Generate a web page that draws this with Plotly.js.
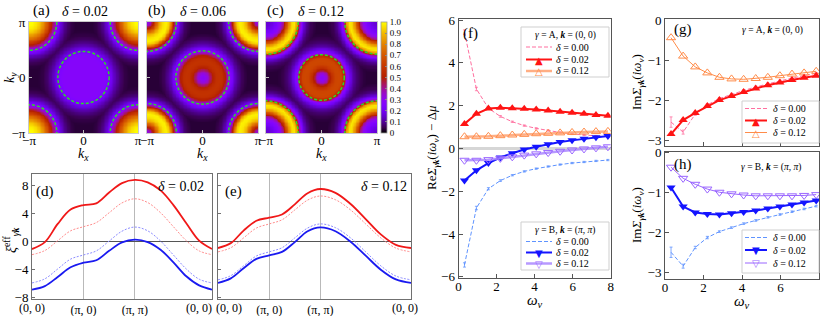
<!DOCTYPE html>
<html><head><meta charset="utf-8">
<script src="https://cdn.plot.ly/plotly-3.0.1.min.js"></script>
<style>body{margin:0;background:#fff}#plot{width:822px;height:316px}</style>
</head><body><div id="plot"></div>
<script>
// ---------------- DATA ----------------
// (a)-(c) radial profiles (value vs distance from Γ and from M, r in units of π, step 0.05)
const profR = [0,0.05,0.1,0.15,0.2,0.25,0.3,0.35,0.4,0.45,0.5,0.55,0.6,0.65,0.7,0.75,0.8,0.85,0.9,0.95,1.0];
const aCenter = [0.27,0.27,0.27,0.27,0.27,0.27,0.27,0.27,0.265,0.24,0.2,0.15,0.11,0.08,0.06,0.045,0.04,0.035,0.035,0.035,0.035];
const aCorner = [1.0,1.0,0.98,0.95,0.9,0.83,0.75,0.65,0.52,0.4,0.3,0.21,0.14,0.1,0.07,0.05,0.04,0.035,0.035,0.035,0.035];
const bCenter = [0.28,0.3,0.36,0.45,0.53,0.57,0.58,0.56,0.5,0.38,0.26,0.18,0.12,0.085,0.06,0.045,0.035,0.035,0.035,0.035,0.035];
const bCorner = [0.3,0.35,0.5,0.68,0.82,0.92,0.97,0.98,0.9,0.65,0.38,0.22,0.14,0.09,0.06,0.045,0.035,0.035,0.035,0.035,0.035];
const cCenter = [0.28,0.3,0.38,0.5,0.6,0.64,0.65,0.64,0.55,0.3,0.2,0.13,0.09,0.065,0.05,0.04,0.035,0.035,0.035,0.035,0.035];
const cCorner = [0.15,0.16,0.18,0.21,0.25,0.3,0.4,0.6,0.8,0.93,0.97,0.85,0.4,0.22,0.13,0.08,0.055,0.045,0.035,0.035,0.035];
const fsCenter = [0.47, 0.48, 0.41];   // Fermi-surface radius around Γ (units of π)
const fsCorner = [0.51, 0.53, 0.58];   // Fermi-surface radius around M (units of π)
const heatTitles = ['0.02', '0.06', '0.12'];
const cbTicks = [0,0.1,0.2,0.3,0.4,0.5,0.6,0.7,0.8,0.9,1.0];
const cbTickText = ['0','0.1','0.2','0.3','0.4','0.5','0.6','0.7','0.8','0.9','1.0'];

// (d),(e) band dispersions along Γ-X-M-Γ
const pathLabels = ['(0, 0)', '(π, 0)', '(π, π)', '(0, 0)'];
const pathTicksD = [0, 1, 2, 3.5];
const pathTicksE = [0, 1, 2, 3.77];
const xD = [0,0.25,0.5,0.75,1,1.25,1.5,1.75,2,2.25,2.5,2.75,3,3.25,3.5];
const xE = [0,0.25,0.5,0.75,1,1.25,1.5,1.75,2,2.295,2.59,2.885,3.18,3.475,3.77];
const redSolidD  = [-1.1,-0.1,2.5,4.55,5.2,5.45,7.0,8.35,8.8,8.45,7.3,5.2,2.6,0.1,-1.1];
const redDotD    = [-1.9,-1.31,0.1,1.51,2.1,2.69,4.1,5.51,6.1,5.56,4.1,2.1,0.1,-1.36,-1.9];
const blueDotD   = [-5.95,-5.36,-3.95,-2.54,-1.95,-1.36,0.05,1.46,2.05,1.51,0.05,-1.95,-3.95,-5.41,-5.95];
const blueSolidD = [-6.9,-6.4,-5.1,-3.7,-3.05,-2.7,-1.35,-0.15,0.25,-0.1,-1.2,-3.0,-5.0,-6.3,-6.9];
const redSolidE  = [-0.95,-0.25,1.55,2.95,3.4,3.85,5.3,6.9,7.5,6.95,5.35,3.2,1.0,-0.5,-0.95];
const redDotE    = [-1.5,-0.91,0.5,1.91,2.5,3.09,4.5,5.91,6.5,5.96,4.5,2.5,0.5,-0.96,-1.5];
const blueDotE   = [-5.5,-4.91,-3.5,-2.09,-1.5,-0.91,0.5,1.91,2.5,1.96,0.5,-1.5,-3.5,-4.96,-5.5];
const blueSolidE = [-5.95,-5.3,-3.85,-2.5,-2.0,-1.5,-0.1,1.45,2.0,1.45,-0.05,-2.05,-4.05,-5.45,-5.95];

// (f)-(h) self-energies on Matsubara frequencies
const omega = [0.314,0.942,1.571,2.199,2.827,3.456,4.084,4.712,5.341,5.969,6.597,7.226,7.854];
const reA00 = [5.44,2.78,1.88,1.5,1.25,1.07,0.94,0.84,0.75,0.68,0.63,0.58,0.54];
const reA02 = [1.15,1.62,1.87,1.9,1.88,1.86,1.82,1.77,1.72,1.67,1.62,1.57,1.53];
const reA12 = [0.55,0.55,0.57,0.6,0.63,0.66,0.69,0.71,0.73,0.75,0.77,0.79,0.8];
const reB00 = [-5.44,-2.78,-1.88,-1.5,-1.25,-1.07,-0.94,-0.84,-0.75,-0.68,-0.63,-0.58,-0.54];
const reB02 = [-1.5,-1.02,-0.68,-0.42,-0.22,-0.05,0.08,0.2,0.3,0.38,0.45,0.52,0.58];
const reB12 = [-0.55,-0.55,-0.52,-0.46,-0.39,-0.31,-0.25,-0.19,-0.13,-0.07,-0.02,0.03,0.08];
const errRe00 = [0.1,0.08,0.05,0.04,0.03,0.03,0.03,0.03,0.03,0.03,0.03,0.03,0.03];
const imA00 = [-2.55,-2.8,-2.35,-2.12,-1.96,-1.85,-1.76,-1.67,-1.59,-1.52,-1.45,-1.39,-1.33];
const imA02 = [-2.85,-2.5,-2.32,-2.15,-2.0,-1.9,-1.8,-1.71,-1.63,-1.56,-1.5,-1.44,-1.39];
const imA12 = [-0.44,-0.9,-1.17,-1.32,-1.43,-1.47,-1.48,-1.46,-1.43,-1.39,-1.35,-1.32,-1.28];
const imB00 = [-2.5,-2.85,-2.38,-2.13,-1.98,-1.88,-1.78,-1.7,-1.62,-1.55,-1.48,-1.41,-1.34];
const imB02 = [-0.87,-1.35,-1.5,-1.54,-1.55,-1.52,-1.49,-1.45,-1.4,-1.35,-1.3,-1.25,-1.2];
const imB12 = [-0.36,-0.64,-0.79,-0.91,-0.99,-1.03,-1.06,-1.08,-1.08,-1.08,-1.08,-1.07,-1.05];
const errIm00 = [0.13,0.05,0.03,0.03,0.02,0.02,0.02,0.02,0.02,0.02,0.02,0.02,0.02];
const deltaLabels = ['0.00', '0.02', '0.12'];

// ---------------- LAYOUT HELPERS ----------------
const W = 822, H = 316;
const fx = p => p / W, fy = p => 1 - p / H;
const dX = (a, b) => [a / W, b / W];
const dY = (t, b) => [1 - b / H, 1 - t / H];
const SERIF = 'Liberation Serif, DejaVu Serif, serif';
const C = {
  a00:'#ff6f9f', a02:'#ff1414', a12:'#ff8c4a', a12l:'rgba(255,160,110,0.85)',
  b00:'#5f93ff', b02:'#1414ff', b12:'#9a66ff', b12l:'rgba(170,135,255,0.85)',
  rs:'#f01818', rd:'#ff8c8c', bs:'#1a1af0', bd:'#8c8cff'
};

// colour scale (gnuplot-like)
const gnuplotScale = [[0,'rgb(0,0,0)'],[0.05,'rgb(57,0,79)'],[0.1,'rgb(81,0,150)'],[0.15,'rgb(99,1,206)'],
 [0.2,'rgb(114,2,243)'],[0.25,'rgb(128,4,255)'],[0.3,'rgb(140,7,243)'],[0.35,'rgb(151,11,206)'],
 [0.4,'rgb(161,16,150)'],[0.45,'rgb(171,23,79)'],[0.5,'rgb(180,32,0)'],[0.6,'rgb(198,55,0)'],
 [0.7,'rgb(213,87,0)'],[0.8,'rgb(228,131,0)'],[0.9,'rgb(242,186,0)'],[1,'rgb(255,255,0)']];

// heat-map table built from the radial profiles
const N = 81;
const kGrid = Array.from({length: N}, (_, i) => -1 + 2 * i / (N - 1));
function prof(p, r) {
  const s = r / (profR[1] - profR[0]);
  const i = Math.floor(s);
  if (i >= p.length - 1) return p[p.length - 1];
  const f = s - i;
  return p[i] * (1 - f) + p[i + 1] * f;
}
function buildZ(center, corner) {
  return kGrid.map(y => kGrid.map(x => Math.max(
    prof(center, Math.hypot(x, y)),
    prof(corner, Math.hypot(1 - Math.abs(x), 1 - Math.abs(y))))));
}
const zSets = [buildZ(aCenter, aCorner), buildZ(bCenter, bCorner), buildZ(cCenter, cCorner)];

const traces = [];
const shapes = [];
const annotations = [];
const ann = (text, x, y, size, o) => annotations.push(Object.assign({
  text, xref:'paper', yref:'paper', x: fx(x), y: fy(y), showarrow:false,
  xanchor:'center', yanchor:'middle', font:{size, family:SERIF, color:'#000'}}, o || {}));

// --- heatmaps
const heatDom = [[29,138],[147,258],[266,377]];
const layout = {
  width: W, height: H, autosize:false, margin:{l:0,r:0,t:0,b:0,pad:0},
  paper_bgcolor:'#fff', plot_bgcolor:'#fff', showlegend:false,
  font:{family:SERIF, size:13, color:'#000'},
  coloraxis:{cmin:0, cmax:1, colorscale:gnuplotScale, colorbar:{
    x: fx(381), xanchor:'left', xpad:0, y: fy(22), yanchor:'top', ypad:0,
    len: 111 / H, lenmode:'fraction', thickness:6, thicknessmode:'pixels',
    outlinewidth:0.8, outlinecolor:'#999', tickvals: cbTicks, ticktext: cbTickText,
    ticks:'inside', ticklen:2, tickcolor:'#888', tickfont:{size:9, family:SERIF}}},
  shapes, annotations
};
for (let p = 0; p < 3; p++) {
  const n = p === 0 ? '' : String(p + 1);
  traces.push({type:'heatmap', x:kGrid, y:kGrid, z:zSets[p], coloraxis:'coloraxis',
    zsmooth:'best', xaxis:'x' + n, yaxis:'y' + n, hoverinfo:'skip'});
  const common = {range:[-1,1], tickvals:[-1,0,1], ticktext:['−π','0','π'], ticks:'inside',
    ticklen:3, tickcolor:'#bbb', showline:true, mirror:true, linecolor:'#c8c8c8', linewidth:1,
    showgrid:false, zeroline:false, tickfont:{size:13}};
  layout['xaxis' + n] = Object.assign({}, common, {domain: dX(...heatDom[p]), anchor:'y' + n,
    ticklabelstandoff:-5});
  layout['yaxis' + n] = Object.assign({}, common, {domain: dY(22,133), anchor:'x' + n,
    showticklabels: p === 0});
  const xr = 'x' + n, yr = 'y' + n;
  const dash = {color:'#2bd82b', width:1.5, dash:'3px,2px'};
  const r0 = fsCenter[p];
  shapes.push({type:'circle', xref:xr, yref:yr, x0:-r0, x1:r0, y0:-r0, y1:r0, line:dash});
  const r1 = fsCorner[p];
  [[-1,-1],[-1,1],[1,-1],[1,1]].forEach(([cx, cy]) => shapes.push({type:'circle', xref:xr, yref:yr,
    x0:cx - r1, x1:cx + r1, y0:cy - r1, y1:cy + r1, line:dash}));
  const cx = (heatDom[p][0] + heatDom[p][1]) / 2;
  ann('<i>k</i><sub><i>x</i></sub>', cx, 155, 14);
}
ann('(a)', 41, 11, 15); ann('<i>δ</i> = ' + heatTitles[0], 85, 12, 14);
ann('(b)', 157, 11, 15); ann('<i>δ</i> = ' + heatTitles[1], 203, 12, 14);
ann('(c)', 275, 11, 15); ann('<i>δ</i> = ' + heatTitles[2], 321, 12, 14);
ann('<i>k</i><sub><i>y</i></sub>', 10, 78, 14, {textangle:-90});

// --- (d), (e) dispersions
function bandAxes(n, xd, ticks, showY) {
  layout['xaxis' + n] = {domain: dX(...xd), anchor:'y' + n, range:[0, ticks[3]], tickvals: ticks.slice(1, 3),
    ticktext: pathLabels.slice(1, 3), ticks:'', showgrid:true, gridcolor:'#a8a8a8',
    gridwidth:0.8, zeroline:false, showline:true, mirror:true, linecolor:'#707070', tickfont:{size:12}};
  layout['yaxis' + n] = {domain: dY(174,299), anchor:'x' + n, range:[-8.25, 9.65], tickvals:[-8,-4,0,4,8],
    ticks:'inside', ticklen:3, tickcolor:'#707070', showgrid:false, zeroline:true, zerolinecolor:'#555',
    zerolinewidth:1, showline:true, mirror:true, linecolor:'#707070', showticklabels:showY, tickfont:{size:13}};
}
bandAxes('4', [32,212], pathTicksD, true);
bandAxes('5', [218,411], pathTicksE, false);
function band(x, y, n, color, solid) {
  traces.push({type:'scatter', mode:'lines', x, y, xaxis:'x' + n, yaxis:'y' + n, hoverinfo:'skip',
    line:{color, width: solid ? 1.8 : 1, shape:'spline', smoothing:1, dash: solid ? 'solid' : '2px,1.5px'}});
}
band(xD, redDotD, '4', C.rd, false); band(xD, blueDotD, '4', C.bd, false);
band(xD, redSolidD, '4', C.rs, true); band(xD, blueSolidD, '4', C.bs, true);
band(xE, redDotE, '5', C.rd, false); band(xE, blueDotE, '5', C.bd, false);
band(xE, redSolidE, '5', C.rs, true); band(xE, blueSolidE, '5', C.bs, true);
const tickY = fy(308);
annotations.push({text:pathLabels[0], xref:'x4', x:0, yref:'paper', y:tickY, showarrow:false, xanchor:'center', yanchor:'middle', font:{size:12}});
annotations.push({text:pathLabels[3], xref:'x4', x:pathTicksD[3], yref:'paper', y:tickY, showarrow:false, xanchor:'right', xshift:2, yanchor:'middle', font:{size:12}});
annotations.push({text:pathLabels[0], xref:'x5', x:0, yref:'paper', y:tickY, showarrow:false, xanchor:'left', xshift:-4, yanchor:'middle', font:{size:12}});
annotations.push({text:pathLabels[3], xref:'x5', x:pathTicksE[3], yref:'paper', y:tickY, showarrow:false, xanchor:'right', xshift:9, yanchor:'middle', font:{size:12}});
ann('(d)', 45, 191, 15); ann('<i>δ</i> = 0.02', 181, 186, 14);
ann('(e)', 233, 191, 15); ann('<i>δ</i> = 0.12', 384, 186, 14);
ann('<i>ξ</i><sup>eff</sup><sub><i>γ</i><b><i>k</i></b></sub>', 11, 240, 14, {textangle:-90});

// --- (f), (g), (h) self-energies
const sigAx = (n, xd, yd, yr, dtick, showX) => {
  layout['xaxis' + n] = {domain: dX(...xd), anchor:'y' + n, range:[0,8], dtick:2, ticks:'inside',
    ticklen:4, tickcolor:'#555', showline:true, mirror:true, linecolor:'#555', showgrid:false,
    zeroline:false, showticklabels:showX, tickfont:{size:13}, ticklabelstandoff:-4};
  layout['yaxis' + n] = {domain: dY(...yd), anchor:'x' + n, range:yr, dtick, ticks:'inside',
    ticklen:4, tickcolor:'#555', showline:true, mirror:true, linecolor:'#555', showgrid:false,
    zeroline: n === '6', zerolinecolor:'#d6d6d6', zerolinewidth:2.5, tickfont:{size:13}};
};
sigAx('6', [458.5,610.7], [19,278], [-6.05, 6.05], 2, true);
sigAx('7', [665,819], [19.3,145.7], [-3.14, 0.02], 1, false);
sigAx('8', [665,819], [151.7,279.3], [-3.18, 0.03], 1, true);

function dashed(y, n, color, err) {
  traces.push({type:'scatter', mode:'lines', x:omega, y, xaxis:'x' + n, yaxis:'y' + n, hoverinfo:'skip',
    line:{color, width:1, dash:'4px,2px'},
    error_y:{type:'data', array:err, visible:true, thickness:0.8, width:1.5, color}});
}
function filled(y, n, color, sym) {
  traces.push({type:'scatter', mode:'lines+markers', x:omega, y, xaxis:'x' + n, yaxis:'y' + n, hoverinfo:'skip',
    line:{color, width:2}, marker:{symbol:sym, size:8, color}});
}
function open(y, n, color, lineColor, lw, sym) {
  traces.push({type:'scatter', mode:'lines+markers', x:omega, y, xaxis:'x' + n, yaxis:'y' + n, hoverinfo:'skip',
    line:{color: lineColor, width: lw}, marker:{symbol:sym, size:8, color, line:{width:1, color}}});
}
dashed(reA00, '6', C.a00, errRe00); filled(reA02, '6', C.a02, 'triangle-up'); open(reA12, '6', C.a12, C.a12l, 2.5, 'triangle-up-open');
dashed(reB00, '6', C.b00, errRe00); filled(reB02, '6', C.b02, 'triangle-down'); open(reB12, '6', C.b12, C.b12l, 2.5, 'triangle-down-open');
dashed(imA00, '7', C.a00, errIm00); open(imA12, '7', C.a12, C.a12, 1, 'triangle-up-open'); filled(imA02, '7', C.a02, 'triangle-up');
dashed(imB00, '8', C.b00, errIm00); open(imB12, '8', C.b12, C.b12, 1, 'triangle-down-open'); filled(imB02, '8', C.b02, 'triangle-down');

ann('(f)', 470, 33, 15); ann('(g)', 683, 29, 15); ann('(h)', 683, 164, 15);
ann('Re<i>Σ</i><sub><i>γ</i><b><i>k</i></b></sub>(<i>iω</i><sub><i>ν</i></sub>) − Δ<i>μ</i>', 432, 148, 13, {textangle:-90});
ann('Im<i>Σ</i><sub><i>γ</i><b><i>k</i></b></sub>(<i>iω</i><sub><i>ν</i></sub>)', 637, 82, 13, {textangle:-90});
ann('Im<i>Σ</i><sub><i>γ</i><b><i>k</i></b></sub>(<i>iω</i><sub><i>ν</i></sub>)', 637, 215, 13, {textangle:-90});
ann('<i>ω</i><sub><i>ν</i></sub>', 535, 301, 15);
ann('<i>ω</i><sub><i>ν</i></sub>', 742, 302, 15);
const headA = '<i>γ</i> = A, <b><i>k</i></b> = (0, 0)';
const headB = '<i>γ</i> = B, <b><i>k</i></b> = (<i>π</i>, <i>π</i>)';
ann(headA, 772, 31, 9.5); ann(headB, 771, 167, 9.5);

// manual legends
function legend(box, titleY, rows, lx0, lx1, tx, entries, title) {
  shapes.push({type:'rect', xref:'paper', yref:'paper', x0:fx(box[0]), x1:fx(box[2]), y0:fy(box[1]), y1:fy(box[3]),
    fillcolor:'rgba(255,255,255,0.92)', line:{color:'#cfcfcf', width:1}, layer:'above'});
  if (title) ann(title, (box[0] + box[2]) / 2, titleY, 9.5);
  entries.forEach((e, i) => {
    shapes.push({type:'line', xref:'paper', yref:'paper', x0:fx(lx0), x1:fx(lx1), y0:fy(rows[i]), y1:fy(rows[i]),
      line:{color:e.line, width:e.w, dash:e.dash || 'solid'}, layer:'above'});
    if (e.glyph) ann(e.glyph, (lx0 + lx1) / 2, rows[i] + 0.5, 10, {font:{size:10, family:'DejaVu Sans', color:e.color}});
    ann('<i>δ</i> = ' + deltaLabels[i], tx, rows[i], 10, {xanchor:'left'});
  });
}
const entA = (lw) => [{line:C.a00, w:1, dash:'4px,2px'}, {line:C.a02, w:2, glyph:'▲', color:C.a02}, {line:lw ? C.a12l : C.a12, w:lw || 1, glyph:'△', color:C.a12}];
const entB = (lw) => [{line:C.b00, w:1, dash:'4px,2px'}, {line:C.b02, w:2, glyph:'▼', color:C.b02}, {line:lw ? C.b12l : C.b12, w:lw || 1, glyph:'▽', color:C.b12}];
legend([521,27,609,77], 35.5, [47,59.5,71], 526, 552, 554, entA(2.5), headA);
legend([521,222,609,270], 230.5, [241.5,252.5,263.5], 526, 552, 554, entB(2.5), headB);
legend([742,101,819,143], 0, [108.5,120.5,132.5], 745, 767, 771, entA(0), null);
legend([742,230,819,273], 0, [237.5,250,263], 745, 767, 771, entB(0), null);

Plotly.newPlot('plot', traces, layout, {displayModeBar:false, staticPlot:true});
</script></body></html>
